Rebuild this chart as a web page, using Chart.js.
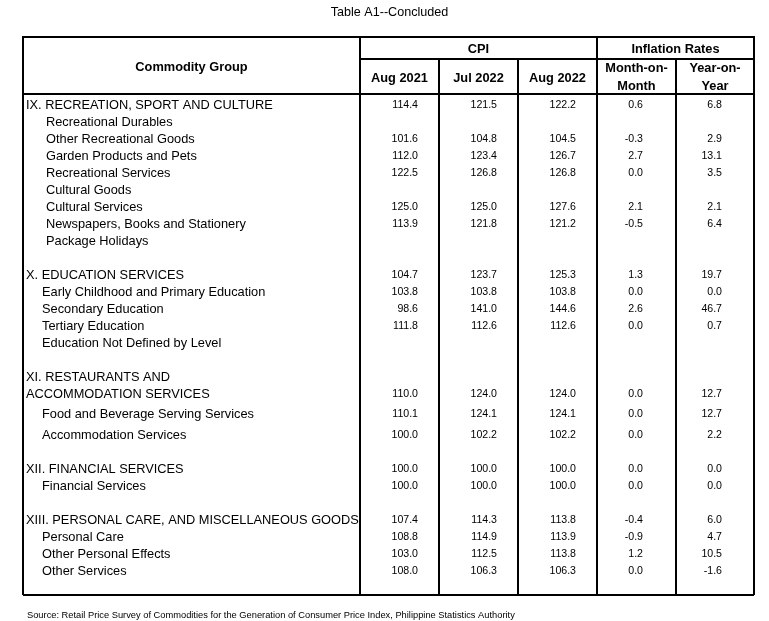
<!DOCTYPE html>
<html>
<head>
<meta charset="utf-8">
<script src="https://cdn.jsdelivr.net/npm/chart.js@4"></script>
<style>
html, body { margin: 0; padding: 0; background: #fff; }
canvas { display: block; }
</style>
</head>
<body>
<canvas id="myChart" width="769" height="621"></canvas>
<script>
// ---- data ----
const title = "Table A1--Concluded";
const source = "Source: Retail Price Survey of Commodities for the Generation of Consumer Price Index, Philippine Statistics Authority";
const stubHeader = "Commodity Group";
const groupHeaders = ["CPI", "Inflation Rates"];
const columnHeaders = [["Aug 2021"], ["Jul 2022"], ["Aug 2022"], ["Month-on-", "Month"], ["Year-on-", "Year"]];

const commodities = [
  "IX. RECREATION, SPORT AND CULTURE",
  "Recreational Durables",
  "Other Recreational Goods",
  "Garden Products and Pets",
  "Recreational Services",
  "Cultural Goods",
  "Cultural Services",
  "Newspapers, Books and Stationery",
  "Package Holidays",
  "",
  "X. EDUCATION SERVICES",
  "Early Childhood and Primary Education",
  "Secondary Education",
  "Tertiary Education",
  "Education Not Defined by Level",
  "",
  "XI. RESTAURANTS AND",
  "ACCOMMODATION SERVICES",
  "Food and Beverage Serving Services",
  "Accommodation Services",
  "",
  "XII. FINANCIAL SERVICES",
  "Financial Services",
  "",
  "XIII. PERSONAL CARE, AND MISCELLANEOUS GOODS",
  "Personal Care",
  "Other Personal Effects",
  "Other Services"
];

const aug2021 = [114.4, null, 101.6, 112.0, 122.5, null, 125.0, 113.9, null, null,
  104.7, 103.8, 98.6, 111.8, null, null,
  null, 110.0, 110.1, 100.0, null,
  100.0, 100.0, null,
  107.4, 108.8, 103.0, 108.0];
const jul2022 = [121.5, null, 104.8, 123.4, 126.8, null, 125.0, 121.8, null, null,
  123.7, 103.8, 141.0, 112.6, null, null,
  null, 124.0, 124.1, 102.2, null,
  100.0, 100.0, null,
  114.3, 114.9, 112.5, 106.3];
const aug2022 = [122.2, null, 104.5, 126.7, 126.8, null, 127.6, 121.2, null, null,
  125.3, 103.8, 144.6, 112.6, null, null,
  null, 124.0, 124.1, 102.2, null,
  100.0, 100.0, null,
  113.8, 113.9, 113.8, 106.3];
const monthOnMonth = [0.6, null, -0.3, 2.7, 0.0, null, 2.1, -0.5, null, null,
  1.3, 0.0, 2.6, 0.0, null, null,
  null, 0.0, 0.0, 0.0, null,
  0.0, 0.0, null,
  -0.4, -0.9, 1.2, 0.0];
const yearOnYear = [6.8, null, 2.9, 13.1, 3.5, null, 2.1, 6.4, null, null,
  19.7, 0.0, 46.7, 0.7, null, null,
  null, 12.7, 12.7, 2.2, null,
  0.0, 0.0, null,
  6.0, 4.7, 10.5, -1.6];

const columns = [aug2021, jul2022, aug2022, monthOnMonth, yearOnYear];

// ---- layout (px) ----
const colEdges = [0, 337, 416, 495, 574, 653, 731];
const numPad = [21, 21, 21, 33, 32];
const rowStep = [10, 17, 17, 17, 17, 17, 17, 17, 17, 17, 17, 17, 17, 17, 17, 17, 17, 17, 20, 21, 17, 17, 17, 17, 17, 17, 17, 17];
const labelIndent = [3, 23, 23, 23, 23, 23, 23, 23, 23, 0, 3, 19, 19, 19, 19, 0, 3, 3, 19, 19, 0, 3, 19, 0, 3, 19, 19, 19];
const bodyHeight = 501;

let rowPos = [];
let acc = 0;
for (let i = 0; i < rowStep.length; i++) {
  acc += rowStep[i];
  rowPos.push(acc);
}

const FONT = "'Liberation Sans', Arial, sans-serif";
const CAP = 0.716;

// one scatter dataset per numeric column, points at the cell's right anchor
let datasets = columns.map((col, c) => {
  let pts = [];
  for (let i = 0; i < col.length; i++) {
    if (col[i] !== null) {
      pts.push({ x: colEdges[c + 2] - numPad[c], y: rowPos[i], v: col[i] });
    }
  }
  return { data: pts, pointRadius: 0, showLine: false };
});

const tablePlugin = {
  id: "tableText",
  afterDraw(chart) {
    const ctx = chart.ctx;
    const xs = chart.scales.x, ys = chart.scales.y;
    const px = (v) => xs.getPixelForValue(v);
    const py = (v) => ys.getPixelForValue(v);

    const text = (s, x, yc, size, align, bold) => {
      ctx.font = (bold ? "bold " : "") + size + "px " + FONT;
      ctx.textAlign = align;
      ctx.textBaseline = "alphabetic";
      ctx.fillText(s, x, yc + size * CAP / 2);
    };

    ctx.save();
    ctx.fillStyle = "#000";
    ctx.strokeStyle = "#000";
    ctx.lineWidth = 2;

    // header lines
    const top = py(-57), mid = py(-35), bot = py(0);
    ctx.beginPath();
    ctx.moveTo(px(0) - 1, top); ctx.lineTo(px(731) + 1, top);
    ctx.moveTo(px(337), mid); ctx.lineTo(px(731), mid);
    [0, 337, 574, 731].forEach((e) => { ctx.moveTo(px(e), top); ctx.lineTo(px(e), bot); });
    [416, 495, 653].forEach((e) => { ctx.moveTo(px(e), mid); ctx.lineTo(px(e), bot); });
    ctx.stroke();

    // title and headers
    text(title, px(731 / 2) + 1, py(-82.5), 12.6, "center", false);
    text(stubHeader, (px(0) + px(337)) / 2, py(-27.5), 12.8, "center", true);
    text(groupHeaders[0], (px(337) + px(574)) / 2, py(-46), 12.8, "center", true);
    text(groupHeaders[1], (px(574) + px(731)) / 2, py(-46), 12.8, "center", true);
    columnHeaders.forEach((h, c) => {
      const cx = (px(colEdges[c + 1]) + px(colEdges[c + 2])) / 2;
      if (h.length === 1) {
        text(h[0], cx, py(-17), 12.8, "center", true);
      } else {
        text(h[0], cx, py(-26.5), 12.8, "center", true);
        text(h[1], cx, py(-8.5), 12.8, "center", true);
      }
    });

    // row labels, clipped to the stub column
    ctx.save();
    ctx.beginPath();
    ctx.rect(px(0), py(0), px(337) - px(0) - 1, py(bodyHeight) - py(0));
    ctx.clip();
    commodities.forEach((s, i) => {
      if (s) text(s, px(labelIndent[i]), py(rowPos[i]), 12.8, "left", false);
    });
    ctx.restore();

    // numbers at the dataset points
    chart.data.datasets.forEach((ds, d) => {
      const meta = chart.getDatasetMeta(d);
      meta.data.forEach((pt, j) => {
        text(ds.data[j].v.toFixed(1), pt.x, pt.y, 10.6, "right", false);
      });
    });

    // source
    text(source, px(4), py(bodyHeight + 19.5), 9.3, "left", false);
    ctx.restore();
  }
};

new Chart(document.getElementById("myChart"), {
  type: "scatter",
  data: { datasets: datasets },
  options: {
    responsive: false,
    devicePixelRatio: 1,
    animation: false,
    events: [],
    layout: { padding: { left: 23, right: 15, top: 94, bottom: 26 } },
    plugins: { legend: { display: false }, tooltip: { enabled: false } },
    scales: {
      x: {
        type: "linear", min: 0, max: 731,
        afterBuildTicks: (s) => { s.ticks = colEdges.map((v) => ({ value: v })); },
        ticks: { display: false },
        border: { display: false },
        grid: { color: "#000", lineWidth: 2, drawTicks: false, tickLength: 0 }
      },
      y: {
        type: "linear", min: 0, max: bodyHeight, reverse: true,
        afterBuildTicks: (s) => { s.ticks = [{ value: 0 }, { value: bodyHeight }]; },
        ticks: { display: false },
        border: { display: false },
        grid: { color: "#000", lineWidth: 2, drawTicks: false, tickLength: 0 }
      }
    }
  },
  plugins: [tablePlugin]
});
</script>
</body>
</html>
